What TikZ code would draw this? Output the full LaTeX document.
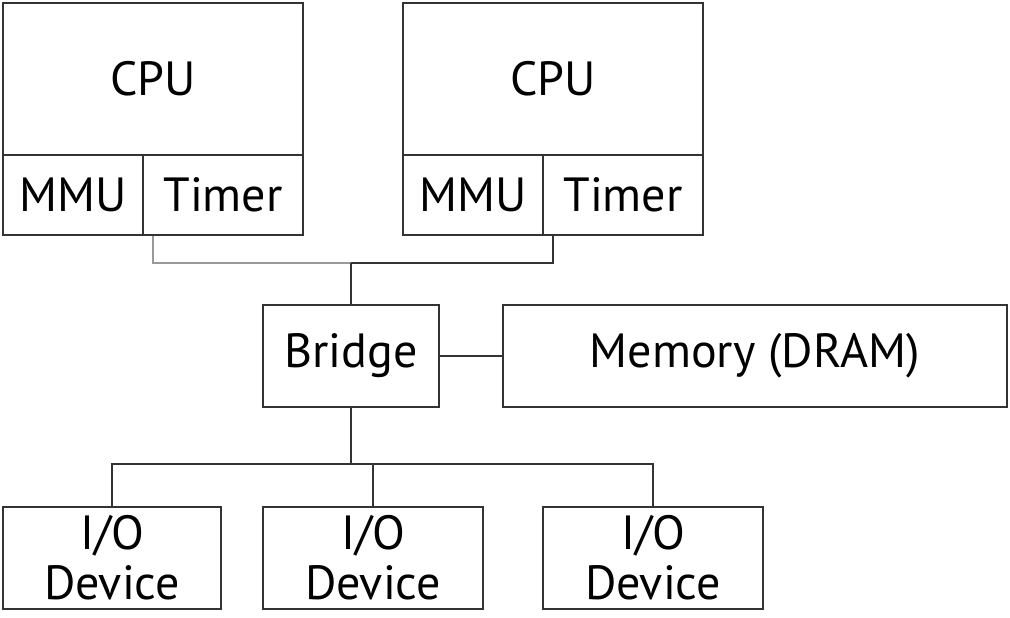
\documentclass[tikz,border=0pt]{standalone}
\usepackage{fontspec}
\setmainfont{PT Sans}
\usetikzlibrary{positioning,calc}

\definecolor{edge}{HTML}{333333}
\tikzset{
  box/.style={draw=edge,line width=1.6pt,inner sep=0pt,align=center,
    font=\fontsize{48}{50}\selectfont},
  wire/.style={draw=edge,line width=1.6pt},
  faint/.style={draw=black!40,line width=1.6pt}
}

\begin{document}
\begin{tikzpicture}[x=1pt,y=-1pt]
  \useasboundingbox (0,0) rectangle (1010,618);

  % two processors
  \node[box,minimum width=300pt,minimum height=152pt] at (153,79) (cpuA) {CPU};
  \node[box,minimum width=140pt,minimum height=80pt] at (73,195) (mmuA) {MMU};
  \node[box,minimum width=160pt,minimum height=80pt] at (223,195) (timerA) {Timer};

  \node[box,minimum width=300pt,minimum height=152pt] at (553,79) (cpuB) {CPU};
  \node[box,minimum width=140pt,minimum height=80pt] at (473,195) (mmuB) {MMU};
  \node[box,minimum width=160pt,minimum height=80pt] at (623,195) (timerB) {Timer};

  % bridge and memory
  \node[box,minimum width=176pt,minimum height=102pt] at (351,356) (bridge) {Bridge};
  \node[box,minimum width=504pt,minimum height=102pt] at (755,356) (mem) {Memory (DRAM)};

  % devices
  \node[box,minimum width=218pt,minimum height=102pt] at (112,558) (ioA) {I/O\\[0pt]Device};
  \node[box,minimum width=220pt,minimum height=102pt] at (373,558) (ioB) {I/O\\[0pt]Device};
  \node[box,minimum width=220pt,minimum height=102pt] at (653,558) (ioC) {I/O\\[0pt]Device};

  % system bus
  \coordinate (sysbus) at (bridge.north |- 0,263);
  \coordinate (tA) at (cpuA.center |- timerA.south);
  \coordinate (tB) at (cpuB.center |- timerB.south);
  \draw[faint] (tA) |- (sysbus);
  \draw[wire] (sysbus) -| (tB);
  \draw[wire] (sysbus) -- (bridge.north);
  \draw[wire] (bridge.east) -- (mem.west);

  % io bus
  \coordinate (iobus) at (bridge.south |- 0,464);
  \draw[wire] (bridge.south) -- (iobus);
  \draw[wire] (ioA.north) |- (iobus) -| (ioC.north);
  \draw[wire] (ioB.north) -- (ioB.north |- iobus);

\end{tikzpicture}
\end{document}
